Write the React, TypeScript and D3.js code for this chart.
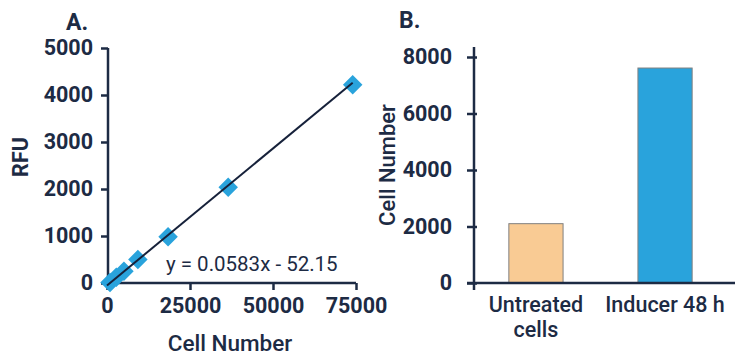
import React, { useEffect, useRef } from 'react';
import * as d3 from 'd3';

// Panel A: standard curve (cell number vs RFU)
const curveCells = [900, 2800, 5100, 9300, 18400, 36500, 74000];
const curveRfu = [10, 120, 250, 500, 985, 2035, 4220];
const fitSlope = 0.0583;
const fitIntercept = -52.15;
const fitRange = [0, 74000];
const aXTicks = [0, 25000, 50000, 75000];
const aYTicks = [0, 1000, 2000, 3000, 4000, 5000];

// Panel B: cell counts
const groups = ['Untreated cells', 'Inducer 48 h'];
const groupLines = [['Untreated', 'cells'], ['Inducer 48 h']];
const groupCounts = [2100, 7610];
const groupColors = ['#F9CB94', '#29A3DC'];
const bYTicks = [0, 2000, 4000, 6000, 8000];

const INK = '#1D2B44';
const FONT = 'Roboto, sans-serif';

const App = () => {
  const ref = useRef(null);

  useEffect(() => {
    if (!ref.current) return;
    const svg = d3.select(ref.current);
    svg.selectAll('*').remove();

    svg.append('rect').attr('width', 738).attr('height', 358).attr('fill', '#fff');

    const styleTicks = (g) => {
      g.select('.domain').remove();
      g.selectAll('line').attr('stroke', INK).attr('stroke-width', 2.5);
      g.selectAll('text')
        .attr('fill', INK)
        .attr('font-family', FONT)
        .attr('font-weight', 700)
        .attr('font-size', 21.5);
    };

    // ---------- Panel A ----------
    const ax = d3.scaleLinear().domain([0, 75000]).range([107, 356]);
    const ay = d3.scaleLinear().domain([0, 5000]).range([283, 48]);

    const gA = svg.append('g');

    gA.append('text')
      .attr('x', 66)
      .attr('y', 30)
      .attr('font-family', FONT)
      .attr('font-weight', 700)
      .attr('font-size', 23)
      .attr('fill', INK)
      .text('A.');

    // axis lines (crossing a bit at origin)
    gA.append('line')
      .attr('x1', ax(0) + 1).attr('x2', ax(0) + 1)
      .attr('y1', ay(5000)).attr('y2', ay(0) + 5)
      .attr('stroke', INK).attr('stroke-width', 2.5);
    gA.append('line')
      .attr('x1', ax(0) - 5).attr('x2', ax(75000))
      .attr('y1', ay(0)).attr('y2', ay(0))
      .attr('stroke', INK).attr('stroke-width', 2.5);

    gA.append('g')
      .attr('transform', `translate(${ax(0) + 1},0)`)
      .call(d3.axisLeft(ay).tickValues(aYTicks).tickSize(7).tickSizeOuter(0).tickPadding(8).tickFormat(d3.format('d')))
      .call(styleTicks);

    gA.append('g')
      .attr('transform', `translate(0,${ay(0)})`)
      .call(d3.axisBottom(ax).tickValues(aXTicks).tickSize(7).tickSizeOuter(0).tickPadding(8).tickFormat(d3.format('d')))
      .call(styleTicks);

    // markers
    const diamond = d3.symbol().type(d3.symbolSquare).size(190);
    gA.append('g')
      .selectAll('path')
      .data(curveCells.map((c, i) => ({ c, r: curveRfu[i] })))
      .join('path')
      .attr('d', diamond)
      .attr('transform', (d) => `translate(${ax(d.c)},${ay(d.r)}) rotate(45)`)
      .attr('fill', '#29A3DC');

    // fit line
    gA.append('line')
      .attr('x1', ax(fitRange[0]))
      .attr('y1', ay(fitSlope * fitRange[0] + fitIntercept))
      .attr('x2', ax(fitRange[1]))
      .attr('y2', ay(fitSlope * fitRange[1] + fitIntercept))
      .attr('stroke', '#16213A')
      .attr('stroke-width', 2);

    gA.append('text')
      .attr('x', 166)
      .attr('y', 271)
      .attr('font-family', FONT)
      .attr('font-size', 20.5)
      .attr('fill', INK)
      .text('y = 0.0583x - 52.15');

    gA.append('text')
      .attr('x', 230)
      .attr('y', 351)
      .attr('text-anchor', 'middle')
      .attr('font-family', FONT)
      .attr('font-weight', 500)
      .attr('font-size', 22.5)
      .attr('fill', INK)
      .text('Cell Number');

    gA.append('text')
      .attr('transform', 'translate(28,157) rotate(-90)')
      .attr('text-anchor', 'middle')
      .attr('font-family', FONT)
      .attr('font-weight', 700)
      .attr('font-size', 21.5)
      .attr('fill', INK)
      .text('RFU');

    // ---------- Panel B ----------
    const bx = d3.scaleBand().domain(groups).range([474, 727]).paddingInner(0.58).paddingOuter(0.27);
    const by = d3.scaleLinear().domain([0, 8000]).range([283, 57]);

    const gB = svg.append('g');

    gB.append('text')
      .attr('x', 399)
      .attr('y', 28)
      .attr('font-family', FONT)
      .attr('font-weight', 700)
      .attr('font-size', 23)
      .attr('fill', INK)
      .text('B.');

    gB.append('g')
      .selectAll('rect')
      .data(groups.map((g, i) => ({ g, v: groupCounts[i], c: groupColors[i] })))
      .join('rect')
      .attr('x', (d) => bx(d.g))
      .attr('y', (d) => by(d.v))
      .attr('width', bx.bandwidth())
      .attr('height', (d) => by(0) - by(d.v))
      .attr('fill', (d) => d.c)
      .attr('stroke', '#808080')
      .attr('stroke-width', 1);

    gB.append('line')
      .attr('x1', 474).attr('x2', 474)
      .attr('y1', 47).attr('y2', by(0) + 7)
      .attr('stroke', INK).attr('stroke-width', 2.5);
    gB.append('line')
      .attr('x1', 467).attr('x2', 735)
      .attr('y1', by(0)).attr('y2', by(0))
      .attr('stroke', INK).attr('stroke-width', 2.5);

    gB.append('g')
      .attr('transform', 'translate(477,0)')
      .call(d3.axisLeft(by).tickValues(bYTicks).tickSize(10).tickSizeOuter(0).tickPadding(15).tickFormat(d3.format('d')))
      .call(styleTicks);

    const cats = gB.append('g')
      .selectAll('text')
      .data(groups.map((g, i) => ({ g, lines: groupLines[i] })))
      .join('text')
      .attr('x', (d) => bx(d.g) + bx.bandwidth() / 2)
      .attr('y', 312)
      .attr('text-anchor', 'middle')
      .attr('font-family', FONT)
      .attr('font-weight', 500)
      .attr('font-size', 21.5)
      .attr('fill', INK);
    cats.selectAll('tspan')
      .data((d) => d.lines.map((l) => ({ l, x: bx(d.g) + bx.bandwidth() / 2 })))
      .join('tspan')
      .attr('x', (t) => t.x)
      .attr('dy', (t, i) => (i === 0 ? 0 : 25))
      .text((t) => t.l);

    gB.append('text')
      .attr('transform', 'translate(395,165) rotate(-90)')
      .attr('text-anchor', 'middle')
      .attr('font-family', FONT)
      .attr('font-weight', 500)
      .attr('font-size', 22)
      .attr('fill', INK)
      .text('Cell Number');
  }, []);

  return (
    <svg
      ref={ref}
      width={738}
      height={358}
      style={{ position: 'absolute', left: 0, top: 0, display: 'block' }}
    />
  );
};

export default App;
